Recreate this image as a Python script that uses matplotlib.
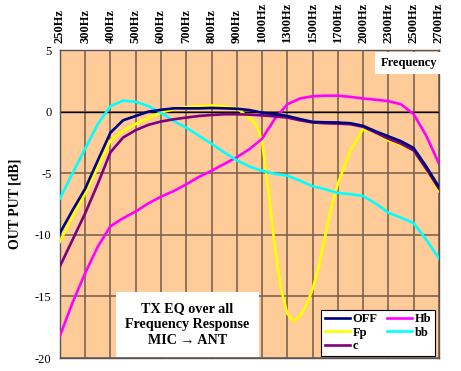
import matplotlib.pyplot as plt

# etiquetas de frecuencia (eje superior)
freqs = ['250Hz', '300Hz', '400Hz', '500Hz', '600Hz', '700Hz', '800Hz', '900Hz',
         '1000Hz', '1300Hz', '1500Hz', '1700Hz', '2000Hz', '2300Hz', '2500Hz', '2700Hz']

# posiciones de lectura (indice de categoria, cada media division)
x_half = [i * 0.5 for i in range(31)]

off_db = [-9.85, -8.0, -6.25, -3.95, -1.7, -0.7, -0.35, 0.0, 0.15, 0.27, 0.27,
          0.27, 0.3, 0.27, 0.24, 0.13, -0.08, -0.2, -0.35, -0.6, -0.83, -0.86,
          -0.88, -0.94, -1.15, -1.6, -2.0, -2.4, -2.95, -4.45, -6.1]
c_db = [-12.55, -10.4, -8.25, -5.85, -3.3, -2.1, -1.5, -1.07, -0.8, -0.62, -0.48,
        -0.35, -0.27, -0.21, -0.21, -0.24, -0.3, -0.38, -0.48, -0.7, -0.88, -0.94,
        -0.97, -1.02, -1.23, -1.7, -2.2, -2.6, -3.15, -4.65, -6.25]
hb_db = [-18.2, -15.5, -13.1, -10.95, -9.3, -8.65, -8.1, -7.45, -6.9, -6.45, -5.9,
         -5.3, -4.8, -4.25, -3.7, -3.05, -2.2, -0.6, 0.6, 1.07, 1.25, 1.3, 1.3,
         1.2, 1.07, 0.97, 0.86, 0.6, -0.2, -1.95, -4.2]
bb_db = [-7.05, -5.0, -3.0, -1.0, 0.45, 0.9, 0.8, 0.45, -0.1, -0.75, -1.3, -1.95,
         -2.6, -3.3, -3.95, -4.45, -4.8, -5.05, -5.2, -5.6, -6.05, -6.3, -6.6,
         -6.7, -6.85, -7.45, -8.2, -8.6, -9.05, -10.4, -11.9]

# Fp tiene un pozo profundo, se leyo con mas puntos
x_fp = [0, 0.5, 1, 1.5, 2, 2.5, 3, 3.5, 4, 4.5, 5, 5.5, 6, 6.5, 7, 7.5, 7.75,
        8, 8.25, 8.5, 8.75, 9, 9.25, 9.5, 9.75, 10, 10.25, 10.5, 10.75, 11,
        11.5, 12, 12.5, 13, 13.5, 14, 14.5, 15]
fp_db = [-10.55, -8.5, -6.65, -4.5, -2.35, -1.55, -1.0, -0.5, -0.08, 0.2, 0.38,
         0.45, 0.5, 0.45, 0.27, -0.5, -1.0, -2.35, -6.4, -10.9, -14.4, -16.4,
         -17.0, -16.6, -15.75, -14.4, -12.55, -10.1, -7.7, -5.85, -3.15, -1.4,
         -1.7, -2.35, -2.7, -3.15, -4.75, -6.45]

serif = 'Liberation Serif'
grid_col = '#7d6450'

fig = plt.figure(figsize=(4.61, 3.71), dpi=100)
ax = fig.add_axes([0.130, 0.035, 0.822, 0.830])
ax.set_facecolor('#FFCC99')

ax.plot(x_half, off_db, color='#000080', lw=1.9, label='OFF', zorder=5)
ax.plot(x_fp, fp_db, color='#FFFF00', lw=1.9, label='Fp', zorder=3)
ax.plot(x_half, c_db, color='#800080', lw=1.9, label='c', zorder=4)
ax.plot(x_half, hb_db, color='#FF00FF', lw=1.9, label='Hb', zorder=3)
ax.plot(x_half, bb_db, color='#00FFFF', lw=1.9, label='bb', zorder=3)

ax.set_xlim(0, 15)
ax.set_ylim(-20, 5)
ax.set_xticks(range(16))
ax.set_xticklabels(freqs, rotation=90, fontsize=9, fontweight='bold', family=serif)
ax.xaxis.tick_top()
ax.set_yticks([5, 0, -5, -10, -15, -20])
ax.set_yticklabels(['5', '0', '-5', '-10', '-15', '-20'], fontsize=9, family=serif)
ax.tick_params(axis='x', length=0, pad=5)
ax.tick_params(axis='y', length=0, pad=6)
ax.grid(True, color=grid_col, lw=1.2, zorder=1)
ax.set_axisbelow(True)
ax.axhline(0, color='black', lw=1.0, zorder=2)
for s in ax.spines.values():
    s.set_color('#555555')
    s.set_linewidth(1.0)

ax.set_ylabel('OUT PUT [dB]', fontsize=10, fontweight='bold', family=serif, labelpad=10)

ax.text(14.92, 4.45, 'Frequency', ha='right', va='top', fontsize=9, fontweight='bold',
        family=serif, zorder=6,
        bbox=dict(facecolor='white', edgecolor='none', pad=3.5))

ax.text(5.05, -17.3, 'TX EQ over all\nFrequency Response\nMIC \u2192 ANT', ha='center', va='center',
        fontsize=10.2, fontweight='bold', family=serif, linespacing=1.3, zorder=6,
        bbox=dict(facecolor='white', edgecolor='none', pad=7))

leg = ax.legend(ncol=2, loc='lower right', bbox_to_anchor=(1.006, -0.014),
                prop={'family': serif, 'weight': 'bold', 'size': 9},
                fancybox=False, framealpha=1, edgecolor='black',
                handlelength=2.0, handletextpad=0.25, columnspacing=0.7,
                labelspacing=0.12, borderpad=0.3)
leg.get_frame().set_linewidth(0.8)
leg.set_zorder(7)

plt.savefig('out.png', dpi=100)
